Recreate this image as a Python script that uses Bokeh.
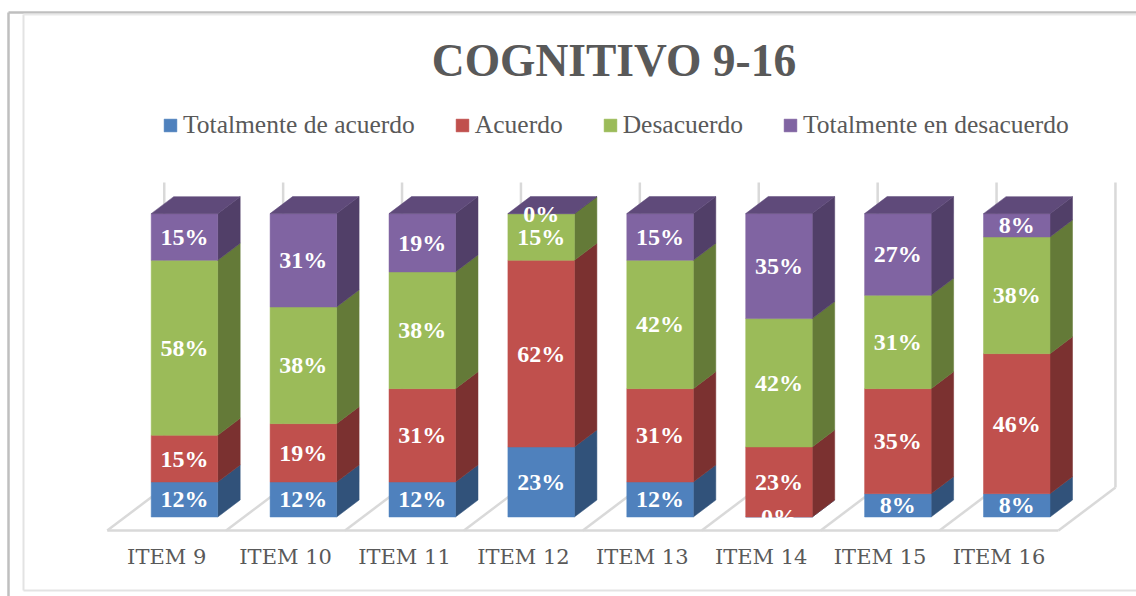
from bokeh.core.properties import value
from bokeh.embed import file_html
from bokeh.models import ColumnDataSource, FixedTicker, Label, Legend, LegendItem, Range1d
from bokeh.plotting import figure
from bokeh.resources import INLINE

title_text = "COGNITIVO 9-16"
categories = ["ITEM 9", "ITEM 10", "ITEM 11", "ITEM 12", "ITEM 13", "ITEM 14", "ITEM 15", "ITEM 16"]
series_names = ["Totalmente de acuerdo", "Acuerdo", "Desacuerdo", "Totalmente en desacuerdo"]
totalmente_acuerdo = [11.54, 11.54, 11.54, 23.08, 11.54, 0.0, 7.69, 7.69]
acuerdo = [15.38, 19.23, 30.77, 61.54, 30.77, 23.08, 34.62, 46.15]
desacuerdo = [57.69, 38.46, 38.46, 15.38, 42.31, 42.31, 30.77, 38.46]
totalmente_desacuerdo = [15.38, 30.77, 19.23, 0.0, 15.38, 34.62, 26.92, 7.69]
series_values = [totalmente_acuerdo, acuerdo, desacuerdo, totalmente_desacuerdo]

front_colors = ["#4f81bd", "#c0504d", "#9bbb59", "#8064a2"]
side_colors = ["#31527a", "#7b3130", "#647a38", "#513f68"]
top_color = "#5f4a7a"
grid_color = "#d9d9d9"
text_grey = "#595959"
SERIF = "Liberation Serif"

# page geometry -> data units
W, H = 1136, 596
PX_PER_CAT, PX_PER_PCT = 118.9, 3.034
X0_PX, Y0_PX = 166.2, 516.5
X = lambda px: (px - X0_PX) / PX_PER_CAT
Y = lambda py: (Y0_PX - py) / PX_PER_PCT

p = figure(width=W, height=H, output_backend="svg", toolbar_location=None,
           x_range=Range1d(X(0), X(W)), y_range=Range1d(Y(H), Y(0)),
           min_border=0, outline_line_color=None, background_fill_color="white")
p.grid.visible = False
p.yaxis.visible = False

# chart frame lines
p.line([X(8), X(8)], [Y(12), Y(600)], line_color="#bfbfbf", line_width=2.5)
p.line([X(8), X(1140)], [Y(12), Y(12)], line_color="#bfbfbf", line_width=2.5)
p.line([X(23), X(23)], [Y(14), Y(590)], line_color="#e3e3e3", line_width=2)
p.line([X(23), X(1140)], [Y(14), Y(14)], line_color="#e9e9e9", line_width=2)
p.line([X(23), X(1140)], [Y(590), Y(590)], line_color="#e3e3e3", line_width=2)

# floor and walls
n = len(categories)
floor_front_y = Y(530)
floor_back_y = Y(487)
wall_top_y = Y(182)
depth_x = 57 / PX_PER_CAT
p.line([-0.5, n - 0.5], [floor_front_y, floor_front_y], line_color=grid_color, line_width=2.5)
for i in range(n + 1):
    xf = i - 0.5
    p.line([xf, xf + depth_x], [floor_front_y, floor_back_y], line_color=grid_color, line_width=2.5)
    p.line([xf + depth_x, xf + depth_x], [floor_back_y, wall_top_y], line_color=grid_color, line_width=2.5)

# bars
bar_left = -15.5 / PX_PER_CAT
bar_width = 66.5 / PX_PER_CAT
bar_dx = 22.5 / PX_PER_CAT
bar_dy = 17 / PX_PER_PCT

legend_items = []
base = [0.0] * n
label_x, label_y, label_text = [], [], []
for s, vals in enumerate(series_values):
    fx, fy, sx, sy = [], [], [], []
    for i, v in enumerate(vals):
        l = i + bar_left
        r = l + bar_width
        y0, y1 = base[i], base[i] + v
        fx.append([l, r, r, l])
        fy.append([y0, y0, y1, y1])
        sx.append([r, r + bar_dx, r + bar_dx, r])
        sy.append([y0, y0 + bar_dy, y1 + bar_dy, y1])
        label_x.append((l + r) / 2)
        label_y.append((y0 + y1) / 2)
        label_text.append(f"{v:.0f}%")
        base[i] = y1
    p.patches(sx, sy, fill_color=side_colors[s], line_color=side_colors[s], line_width=0.5)
    r_front = p.patches(fx, fy, fill_color=front_colors[s], line_color=front_colors[s], line_width=0.5)
    legend_items.append(LegendItem(label=series_names[s], renderers=[r_front]))

tx, ty = [], []
for i in range(n):
    l = i + bar_left
    r = l + bar_width
    tx.append([l, r, r + bar_dx, l + bar_dx])
    ty.append([base[i], base[i], base[i] + bar_dy, base[i] + bar_dy])
p.patches(tx, ty, fill_color=top_color, line_color=top_color, line_width=0.5)

labels = ColumnDataSource(dict(x=label_x, y=label_y, t=label_text))
p.text("x", "y", text="t", source=labels, text_color="white", text_align="center",
       text_baseline="middle", text_font=value(SERIF), text_font_style="bold", text_font_size="24px")

# category axis
ax = p.xaxis[0]
ax.fixed_location = floor_front_y
ax.ticker = FixedTicker(ticks=list(range(n)))
ax.major_label_overrides = {i: c for i, c in enumerate(categories)}
ax.axis_line_color = None
ax.major_tick_line_color = None
ax.minor_tick_line_color = None
ax.major_label_standoff = 8
ax.major_label_text_font = "DejaVu Serif"
ax.major_label_text_font_size = "21px"
ax.major_label_text_color = text_grey

# title
p.add_layout(Label(x=X(613.5), y=Y(60), text=title_text, text_align="center", text_baseline="middle",
                   text_font=SERIF, text_font_style="bold", text_font_size="45.5px", text_color=text_grey))

# legend
legend = Legend(items=legend_items, orientation="horizontal", location=(162, H - 140),
                background_fill_alpha=0, border_line_color=None, padding=0, margin=0,
                glyph_width=16, glyph_height=16, label_standoff=5, spacing=39,
                label_text_font=SERIF, label_text_font_size="25.5px", label_text_color=text_grey,
                label_height=26)
p.add_layout(legend)

open("out.html", "w").write(file_html(p, INLINE))
